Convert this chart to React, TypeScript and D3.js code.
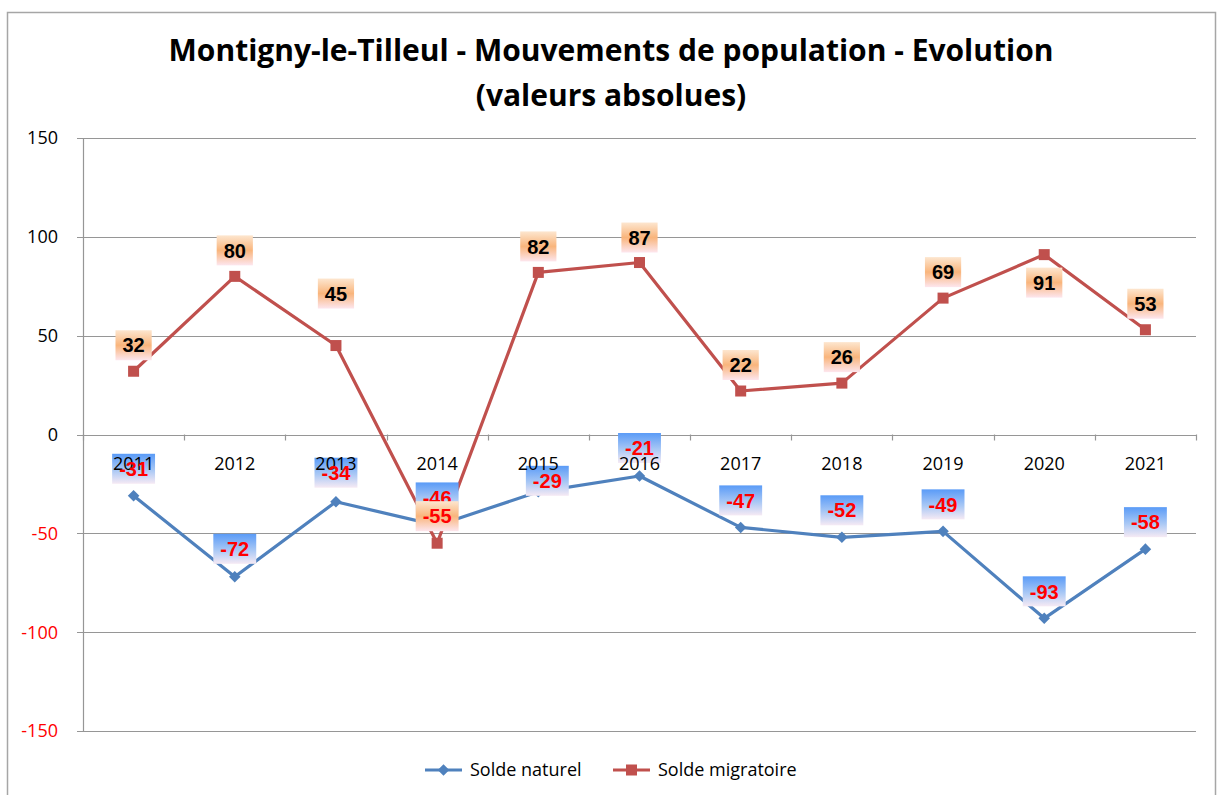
import React, { useEffect, useRef } from 'react';
import * as d3 from 'd3';

// data
const years = ['2011', '2012', '2013', '2014', '2015', '2016', '2017', '2018', '2019', '2020', '2021'];
const soldeNaturel = [-31, -72, -34, -46, -29, -21, -47, -52, -49, -93, -58];
const soldeMigratoire = [32, 80, 45, -55, 82, 87, 22, 26, 69, 91, 53];
const yTicks = [-150, -100, -50, 0, 50, 100, 150];

// label placement (pixels, relative to the point)
const natLabelDy = [-27, -28, -29, -28, -11, -28, -27, -27, -27, -27, -27];
const natLabelDx = [0, 0, 0, 0, 9, 0, 0, 0, 0, 0, 0];
const migLabelDy = [-26, -26, -52, -27, -26, -25, -26, -26, -26, 28, -26];

const BLUE = '#4F81BD';
const RED = '#C0504D';

export default function App() {
  const ref = useRef<SVGSVGElement>(null);

  useEffect(() => {
    if (!ref.current) return;
    const svg = d3.select(ref.current);
    svg.selectAll('*').remove();

    const W = 1222, H = 795;
    const left = 83, right = 1196, top = 138, bottom = 731;

    const x = d3.scaleBand<string>().domain(years).range([left, right]);
    const cx = (d: string) => (x(d) as number) + x.bandwidth() / 2;
    const y = d3.scaleLinear().domain([-150, 150]).range([bottom, top]);

    const defs = svg.append('defs');
    const gBlue = defs.append('linearGradient').attr('id', 'gBlue').attr('x1', 0).attr('y1', 0).attr('x2', 0).attr('y2', 1);
    gBlue.append('stop').attr('offset', '0%').attr('stop-color', '#5A9BF7');
    gBlue.append('stop').attr('offset', '55%').attr('stop-color', '#A9C8F5');
    gBlue.append('stop').attr('offset', '100%').attr('stop-color', '#F6EAF4');
    const gOr = defs.append('linearGradient').attr('id', 'gOr').attr('x1', 0).attr('y1', 0).attr('x2', 0).attr('y2', 1);
    gOr.append('stop').attr('offset', '0%').attr('stop-color', '#FDE6CF');
    gOr.append('stop').attr('offset', '50%').attr('stop-color', '#F9B57C');
    gOr.append('stop').attr('offset', '100%').attr('stop-color', '#FDE6EE');

    svg.append('rect').attr('width', W).attr('height', H).attr('fill', '#fff');

    // outer frame
    svg.append('path')
      .attr('d', `M7.5,${H} V12.5 H1215.5 V${H}`)
      .attr('fill', 'none').attr('stroke', '#a6a6a6').attr('stroke-width', 1.5);

    // title
    const title = svg.append('text')
      .attr('text-anchor', 'middle')
      .attr('font-family', '"Open Sans", sans-serif')
      .attr('font-weight', 700)
      .attr('font-size', 30)
      .attr('fill', '#000');
    title.append('tspan').attr('x', 611).attr('y', 61).text('Montigny-le-Tilleul - Mouvements de population - Evolution');
    title.append('tspan').attr('x', 611).attr('y', 106).text('(valeurs absolues)');

    // grid
    svg.append('g').selectAll('line').data(yTicks).join('line')
      .attr('x1', left - 6).attr('x2', right)
      .attr('y1', d => Math.round(y(d)) + 0.5).attr('y2', d => Math.round(y(d)) + 0.5)
      .attr('stroke', '#969696').attr('stroke-width', 1.2);

    // y axis
    svg.append('line').attr('x1', left + 0.5).attr('x2', left + 0.5).attr('y1', y(150)).attr('y2', y(-150))
      .attr('stroke', '#969696').attr('stroke-width', 1.2);
    svg.append('g').selectAll('text').data(yTicks).join('text')
      .attr('x', 58).attr('y', d => y(d)).attr('dy', '0.36em')
      .attr('text-anchor', 'end')
      .attr('font-family', '"Open Sans", sans-serif').attr('font-size', 18)
      .attr('fill', d => (d < 0 ? '#FF0000' : '#000'))
      .text(d => String(d));

    // category ticks on zero line
    const bounds = years.map(d => x(d) as number).concat([right]);
    svg.append('g').selectAll('line').data(bounds).join('line')
      .attr('x1', d => Math.round(d) + 0.5).attr('x2', d => Math.round(d) + 0.5)
      .attr('y1', y(0)).attr('y2', y(0) + 6)
      .attr('stroke', '#969696').attr('stroke-width', 1.2);

    // lines
    const line = d3.line<number>().x((_, i) => cx(years[i])).y(d => y(d));
    svg.append('path').datum(soldeNaturel).attr('d', line).attr('fill', 'none')
      .attr('stroke', BLUE).attr('stroke-width', 3.2).attr('stroke-linejoin', 'round');
    svg.append('path').datum(soldeMigratoire).attr('d', line).attr('fill', 'none')
      .attr('stroke', RED).attr('stroke-width', 3.2).attr('stroke-linejoin', 'round');

    const diamond = d3.symbol().type(d3.symbolDiamond2).size(85);
    svg.append('g').selectAll('path').data(soldeNaturel).join('path')
      .attr('d', diamond as any)
      .attr('transform', (d, i) => `translate(${cx(years[i])},${y(d)})`)
      .attr('fill', BLUE);
    svg.append('g').selectAll('rect').data(soldeMigratoire).join('rect')
      .attr('x', (_, i) => cx(years[i]) - 5.5).attr('y', d => y(d) - 5.5)
      .attr('width', 11).attr('height', 11).attr('fill', RED);

    const textW = (v: number) => String(v).replace('-', '').length * 11.1 + (v < 0 ? 6.7 : 0);

    // label boxes
    const natBoxes = svg.append('g');
    const catLabels = svg.append('g');
    const natTexts = svg.append('g');
    const migLayer = svg.append('g');

    soldeNaturel.forEach((v, i) => {
      const w = textW(v) + 14;
      const lx = cx(years[i]) + natLabelDx[i];
      const ly = y(v) + natLabelDy[i];
      natBoxes.append('rect').attr('x', lx - w / 2).attr('y', ly - 15).attr('width', w).attr('height', 30).attr('fill', 'url(#gBlue)');
      natTexts.append('text').attr('x', lx).attr('y', ly).attr('dy', '0.36em').attr('text-anchor', 'middle')
        .attr('font-family', '"Liberation Sans", Arial, sans-serif').attr('font-weight', 700).attr('font-size', 20)
        .attr('fill', v < 0 ? '#FF0000' : '#000').text(String(v));
    });

    catLabels.selectAll('text').data(years).join('text')
      .attr('x', d => cx(d)).attr('y', y(0) + 29).attr('dy', '0.36em')
      .attr('text-anchor', 'middle')
      .attr('font-family', '"Open Sans", sans-serif').attr('font-size', 18)
      .attr('fill', '#000').text(d => d);

    soldeMigratoire.forEach((v, i) => {
      const w = textW(v) + 14;
      const lx = cx(years[i]);
      const ly = y(v) + migLabelDy[i];
      migLayer.append('rect').attr('x', lx - w / 2).attr('y', ly - 15).attr('width', w).attr('height', 30).attr('fill', 'url(#gOr)');
      migLayer.append('text').attr('x', lx).attr('y', ly).attr('dy', '0.36em').attr('text-anchor', 'middle')
        .attr('font-family', '"Liberation Sans", Arial, sans-serif').attr('font-weight', 700).attr('font-size', 20)
        .attr('fill', v < 0 ? '#FF0000' : '#000').text(String(v));
    });

    // legend
    const lg = svg.append('g').attr('font-family', '"Open Sans", sans-serif').attr('font-size', 18);
    const ly = 770;
    lg.append('line').attr('x1', 425).attr('x2', 462).attr('y1', ly).attr('y2', ly).attr('stroke', BLUE).attr('stroke-width', 3);
    lg.append('path').attr('d', diamond as any).attr('transform', `translate(443.5,${ly})`).attr('fill', BLUE);
    lg.append('text').attr('x', 470).attr('y', ly).attr('dy', '0.36em').text('Solde naturel');
    lg.append('line').attr('x1', 613).attr('x2', 650).attr('y1', ly).attr('y2', ly).attr('stroke', RED).attr('stroke-width', 3);
    lg.append('rect').attr('x', 626).attr('y', ly - 5.5).attr('width', 11).attr('height', 11).attr('fill', RED);
    lg.append('text').attr('x', 658).attr('y', ly).attr('dy', '0.36em').text('Solde migratoire');
  }, []);

  return (
    <svg ref={ref} width={1222} height={795} style={{ position: 'absolute', left: 0, top: 0 }} />
  );
}
